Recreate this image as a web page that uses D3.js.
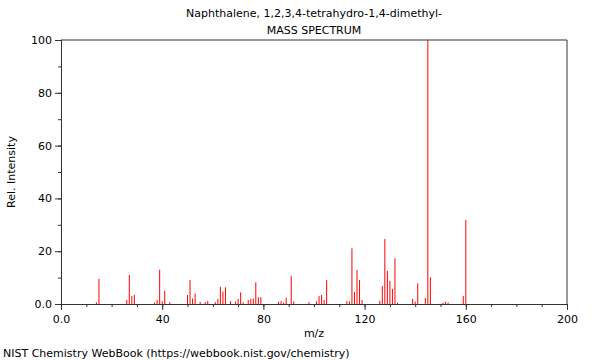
<!DOCTYPE html>
<html>
<head>
<meta charset="utf-8">
<script src="https://cdn.jsdelivr.net/npm/d3@7"></script>
<style>
    body { margin: 0; background: #fff; }
    text { font-family: "DejaVu Sans", sans-serif; fill: #000; }
</style>
</head>
<body>
<div id="wrapper"></div>
<script>
const titleLines = ["Naphthalene, 1,2,3,4-tetrahydro-1,4-dimethyl-", "MASS SPECTRUM"];
const xLabel = "m/z";
const yLabel = "Rel. Intensity";
const footer = "NIST Chemistry WebBook (https://webbook.nist.gov/chemistry)";

const mzValues = [14, 15, 26, 27, 28, 29, 37, 38, 39, 40, 41, 43, 50, 51, 52, 53, 55, 57, 58,
    61, 62, 63, 64, 65, 67, 69, 70, 71, 72, 74, 75, 76, 77, 78, 79, 86, 87, 88, 89, 91, 92,
    98, 101, 102, 103, 104, 105, 113, 114, 115, 116, 117, 118, 119, 126, 127, 128, 129, 130,
    131, 132, 133, 139, 140, 141, 144, 145, 146, 151, 152, 153, 159, 160];
const intensities = [0.6, 9.5, 1.5, 11, 3, 3.4, 0.6, 1.5, 13, 1.1, 5, 0.7, 3.4, 9.1, 2.1, 4, 0.8, 0.7, 1.1,
    0.7, 1.9, 6.5, 4.7, 6.3, 1.1, 0.9, 1.9, 4.4, 0.6, 1.5, 2, 2.1, 8.2, 2.6, 2.6, 0.8, 1.1, 0.5, 2.4, 10.6, 1,
    0.7, 1, 3, 3.4, 1.5, 9.1, 1.1, 1, 21.1, 4.5, 12.9, 9.1, 1.5, 1.2, 6.8, 24.6, 12.6, 8.8,
    5.7, 17.3, 0.5, 1.9, 0.9, 7.8, 2.3, 100, 10.1, 0.5, 0.8, 0.6, 3, 31.8];

const xTicks = [0, 40, 80, 120, 160, 200];
const yTicks = [0, 20, 40, 60, 80, 100];

function drawSpectrum() {
    const dataset = mzValues.map((mz, i) => ({mz, intensity: intensities[i]}));
    const xAccessor = d => d.mz;
    const yAccessor = d => d.intensity;

    const margin = {top: 40, right: 33, bottom: 56, left: 61};
    const dimensions = new Dimensions(600, 360, margin);

    const svg = d3.select("#wrapper")
        .append("svg")
        .attr("width", dimensions.width)
        .attr("height", dimensions.height);

    const bounds = svg.append("g")
        .attr("transform", translate(margin.left, margin.top));

    const xScale = d3.scaleLinear()
        .domain([0, 200])
        .range([0, dimensions.boundedWidth]);

    const yScale = d3.scaleLinear()
        .domain([0, 100])
        .range([dimensions.boundedHeight, 0]);

    // peaks
    bounds.append("g")
        .selectAll("line")
        .data(dataset)
        .join("line")
        .attr("x1", d => xScale(xAccessor(d)))
        .attr("x2", d => xScale(xAccessor(d)))
        .attr("y1", yScale(0))
        .attr("y2", d => yScale(yAccessor(d)))
        .attr("stroke", "#ff0000")
        .attr("stroke-width", 1);

    // minor ticks
    const xMinor = d3.axisBottom(xScale)
        .tickValues(d3.range(0, 201, 10))
        .tickSize(3)
        .tickFormat("");
    bounds.append("g")
        .attr("transform", translate(0, dimensions.boundedHeight))
        .call(xMinor);

    const yMinor = d3.axisLeft(yScale)
        .tickValues(d3.range(0, 101, 10))
        .tickSize(3)
        .tickFormat("");
    bounds.append("g").call(yMinor);

    const xAxis = bounds.append("g")
        .attr("transform", translate(0, dimensions.boundedHeight))
        .call(d3.axisBottom(xScale)
            .tickValues(xTicks)
            .tickSize(6)
            .tickFormat(d => d === 0 ? "0.0" : d));

    const yAxis = bounds.append("g")
        .call(d3.axisLeft(yScale)
            .tickValues(yTicks)
            .tickSize(6)
            .tickFormat(d => d === 0 ? "0.0" : d));

    bounds.selectAll(".domain").attr("stroke", "#333");
    bounds.selectAll(".tick line").attr("stroke", "#333");
    bounds.selectAll(".tick text")
        .style("font-family", "DejaVu Sans, sans-serif")
        .style("font-size", "11px")
        .attr("fill", "#000");
    xAxis.selectAll(".tick text").attr("dy", "0.95em");

    // frame: top and right edges
    bounds.append("line")
        .attr("x1", 0).attr("x2", dimensions.boundedWidth)
        .attr("y1", 0).attr("y2", 0)
        .attr("stroke", "#333");
    bounds.append("line")
        .attr("x1", dimensions.boundedWidth).attr("x2", dimensions.boundedWidth)
        .attr("y1", 0).attr("y2", dimensions.boundedHeight)
        .attr("stroke", "#333");

    // texts
    const centerX = margin.left + dimensions.boundedWidth / 2;
    svg.selectAll(".title")
        .data(titleLines)
        .join("text")
        .attr("class", "title")
        .attr("x", centerX)
        .attr("y", (d, i) => 17 + i * 17)
        .attr("text-anchor", "middle")
        .style("font-size", "11px")
        .text(d => d);

    svg.append("text")
        .attr("x", centerX)
        .attr("y", 337)
        .attr("text-anchor", "middle")
        .style("font-size", "11px")
        .text(xLabel);

    svg.append("text")
        .attr("transform", `translate(15, ${margin.top + dimensions.boundedHeight / 2}) rotate(-90)`)
        .attr("text-anchor", "middle")
        .style("font-size", "11px")
        .text(yLabel);

    svg.append("text")
        .attr("x", 3)
        .attr("y", 357)
        .style("font-size", "11px")
        .text(footer);
}

class Dimensions {
    constructor(width, height, margin) {
        this.width = width;
        this.height = height;
        this.margin = margin;
        this.boundedWidth = width - margin.left - margin.right;
        this.boundedHeight = height - margin.top - margin.bottom;
    }
}

function translate(x, y) {
    return `translate(${x}, ${y})`;
}

drawSpectrum();
</script>
</body>
</html>
